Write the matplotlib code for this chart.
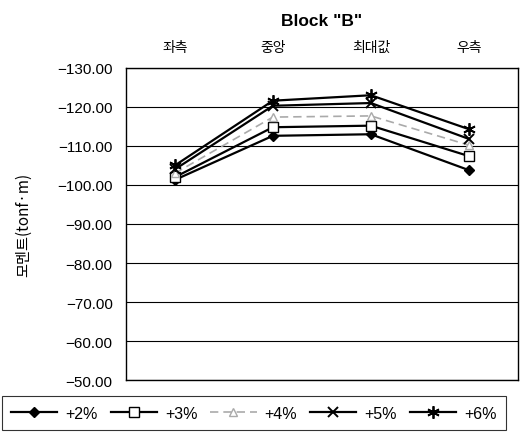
import numpy as np
import matplotlib.pyplot as plt

plt.rcParams['font.family'] = ['Liberation Sans', 'Noto Sans CJK KR', 'DejaVu Sans']

categories = ['좌측', '중앙', '최대값', '우측']
series_names = ['+2%', '+3%', '+4%', '+5%', '+6%']
p2 = [-101.3, -112.6, -113.0, -103.8]
p3 = [-102.0, -114.8, -115.2, -107.4]
p4 = [-103.0, -117.4, -117.7, -110.2]
p5 = [-104.0, -120.3, -121.0, -111.8]
p6 = [-105.0, -121.6, -123.0, -114.3]
yticks = [-130, -120, -110, -100, -90, -80, -70, -60, -50]

fig = plt.figure(figsize=(5.2, 4.39), dpi=100)
ax = fig.add_axes([0.242, 0.132, 0.754, 0.711])

x = np.arange(len(categories))
styles = [
    dict(color='black', marker='D', markersize=5, markerfacecolor='black', lw=1.6),
    dict(color='black', marker='s', markersize=7, markerfacecolor='white', lw=1.6),
    dict(color='#aaaaaa', marker='^', markersize=6, markerfacecolor='white', lw=1.2, ls=(0, (5, 3))),
    dict(color='black', marker='x', markersize=7, markeredgewidth=1.4, lw=1.6),
    dict(color='black', marker=(6, 2, 0), markersize=9, markeredgewidth=1.3, lw=1.6),
]
for name, vals, st in zip(series_names, [p2, p3, p4, p5, p6], styles):
    ax.plot(x, vals, label=name, zorder=3, **st)

ax.set_xlim(-0.5, len(categories) - 0.5)
ax.set_ylim(-50, -130)
ax.set_yticks(yticks)
ax.set_yticklabels(['\u2212%.2f' % abs(v) for v in yticks], fontsize=11)
ax.yaxis.grid(True, color='black', lw=0.8)
ax.set_axisbelow(True)
ax.tick_params(axis='y', length=0, pad=9.5)

ax.xaxis.tick_top()
ax.set_xticks(x)
ax.set_xticklabels(categories, fontsize=10, family=['Noto Sans CJK KR'])
ax.tick_params(axis='x', length=0, pad=10)

for s in ax.spines.values():
    s.set_color('black')
    s.set_linewidth(1.0)

ax.set_ylabel('모멘트(tonf·m)', fontsize=11, family=['Noto Sans CJK KR', 'DejaVu Sans'], labelpad=18)
fig.text(0.619, 0.95, 'Block "B"', ha='center', va='center', fontsize=12.5, fontweight='bold')

leg = fig.legend(loc='upper left', bbox_to_anchor=(0.003, -0.01, 0.97, 0.105), mode='expand',
                 ncol=5, frameon=True, fancybox=False, edgecolor='black', fontsize=11.5,
                 handlelength=2.9, handletextpad=0.5, columnspacing=0.9, borderaxespad=0,
                 borderpad=0.6)
leg.get_frame().set_linewidth(0.8)

fig.savefig('out.png', dpi=100)
